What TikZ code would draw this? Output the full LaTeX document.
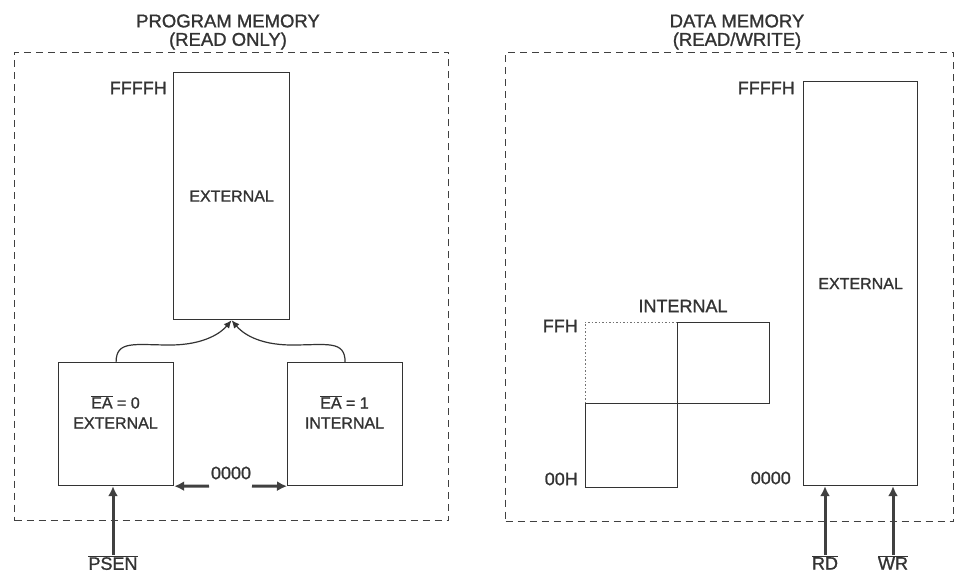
\documentclass[tikz,border=0pt]{standalone}
\usepackage{fontspec}
\setmainfont{Liberation Sans}
\newfontfamily\heavysans[FakeBold=1.2]{Liberation Sans}
\usetikzlibrary{arrows.meta,calc}
\begin{document}
\begin{tikzpicture}[x=1pt,y=-1pt,
  ln/.style={draw=black!80,line width=1.2pt},
  mbox/.style={ln,inner sep=0pt,anchor=north west},
  dbox/.style={draw=black!75,line width=1pt,dash pattern=on 7pt off 5pt,inner sep=0pt,anchor=north west},
  dotln/.style={draw=black!55,line width=0.9pt,dash pattern=on 1.5pt off 2pt},
  big/.style={font=\heavysans\fontsize{18.5}{20}\selectfont,text=black!80,inner sep=0pt},
  lab/.style={font=\heavysans\fontsize{18}{20}\selectfont,text=black!80,inner sep=0pt},
  sm/.style={font=\heavysans\fontsize{16}{18}\selectfont,text=black!80,inner sep=0pt},
  thickarr/.style={draw=black!75,line width=3pt,-{Latex[length=10pt,width=10pt]}},
  curvearr/.style={ln,-{Latex[length=8pt,width=7pt]}}]
\useasboundingbox (0,0) rectangle (956,577);

% ---------- Program memory ----------
\node[dbox,minimum width=434pt,minimum height=468pt] (pm) at (14,52) {};
\node[big] (pmt) at (228,21) {PROGRAM MEMORY};
\node[big] (pmr) at (228,41) {(READ ONLY)};

\node[mbox,minimum width=116pt,minimum height=247pt,sm] (pext) at (173,72) {EXTERNAL};
\node[lab,anchor=east] (pf) at (167,88) {FFFFH};

\node[mbox,minimum width=115pt,minimum height=123pt] (lb) at (58,362) {};
\node[mbox,minimum width=115pt,minimum height=123pt] (rb) at (287,362) {};
\node[sm] (lbt1) at (115.5,402) {$\overline{\mbox{EA}}$ = 0};
\node[sm] (lbt2) at (115.5,423) {EXTERNAL};
\node[sm] (rbt1) at (344.5,402) {$\overline{\mbox{EA}}$ = 1};
\node[sm] (rbt2) at (344.5,423) {INTERNAL};

\draw[curvearr] (lb.north) .. controls +(0,-22) and +(-35,0) .. (170,345)
  .. controls +(35,0) and +(-10,12) .. (pext.south);
\draw[curvearr] (rb.north) .. controls +(0,-22) and +(35,0) .. (292,345)
  .. controls +(-35,0) and +(10,12) .. (pext.south);

\node[lab] (zero) at (231,473) {0000};
\coordinate (z1) at (209,486);
\coordinate (z2) at (252,486);
\draw[thickarr] (z1) -- (lb.south east);
\draw[thickarr] (z2) -- (rb.south west);

\node[lab,anchor=north] (psen) at (113,555) {$\overline{\mbox{PSEN}}$};
\draw[thickarr] (psen.north) -- (psen.north |- lb.south);

% ---------- Data memory ----------
\node[dbox,minimum width=448pt,minimum height=469pt] (dm) at (505,52) {};
\node[big] (dmt) at (737,21) {DATA MEMORY};
\node[big] (dmr) at (737,41) {(READ/WRITE)};

\node[mbox,minimum width=114pt,minimum height=404pt,sm] (dext) at (803,81) {EXTERNAL};
\node[lab,anchor=east] (df) at (795,88) {FFFFH};
\node[lab,anchor=east] (d0) at (791,478) {0000};

\node[lab] (intl) at (683,306) {INTERNAL};
\draw[dotln] (585,403) -- (585,322) -- (677,322);
\node[mbox,minimum width=92pt,minimum height=81pt] (iu) at (677,322) {};
\node[mbox,minimum width=92pt,minimum height=84pt] (il) at (585,403) {};
\node[lab,anchor=east] (ffh) at (578,326) {FFH};
\node[lab,anchor=east] (ooh) at (578,479) {00H};

\node[lab,anchor=north] (rd) at (825,555) {$\overline{\mbox{RD}}$};
\node[lab,anchor=north] (wr) at (893,555) {$\overline{\mbox{WR}}$};
\draw[thickarr] (rd.north) -- (rd.north |- dext.south);
\draw[thickarr] (wr.north) -- (wr.north |- dext.south);
\end{tikzpicture}
\end{document}
